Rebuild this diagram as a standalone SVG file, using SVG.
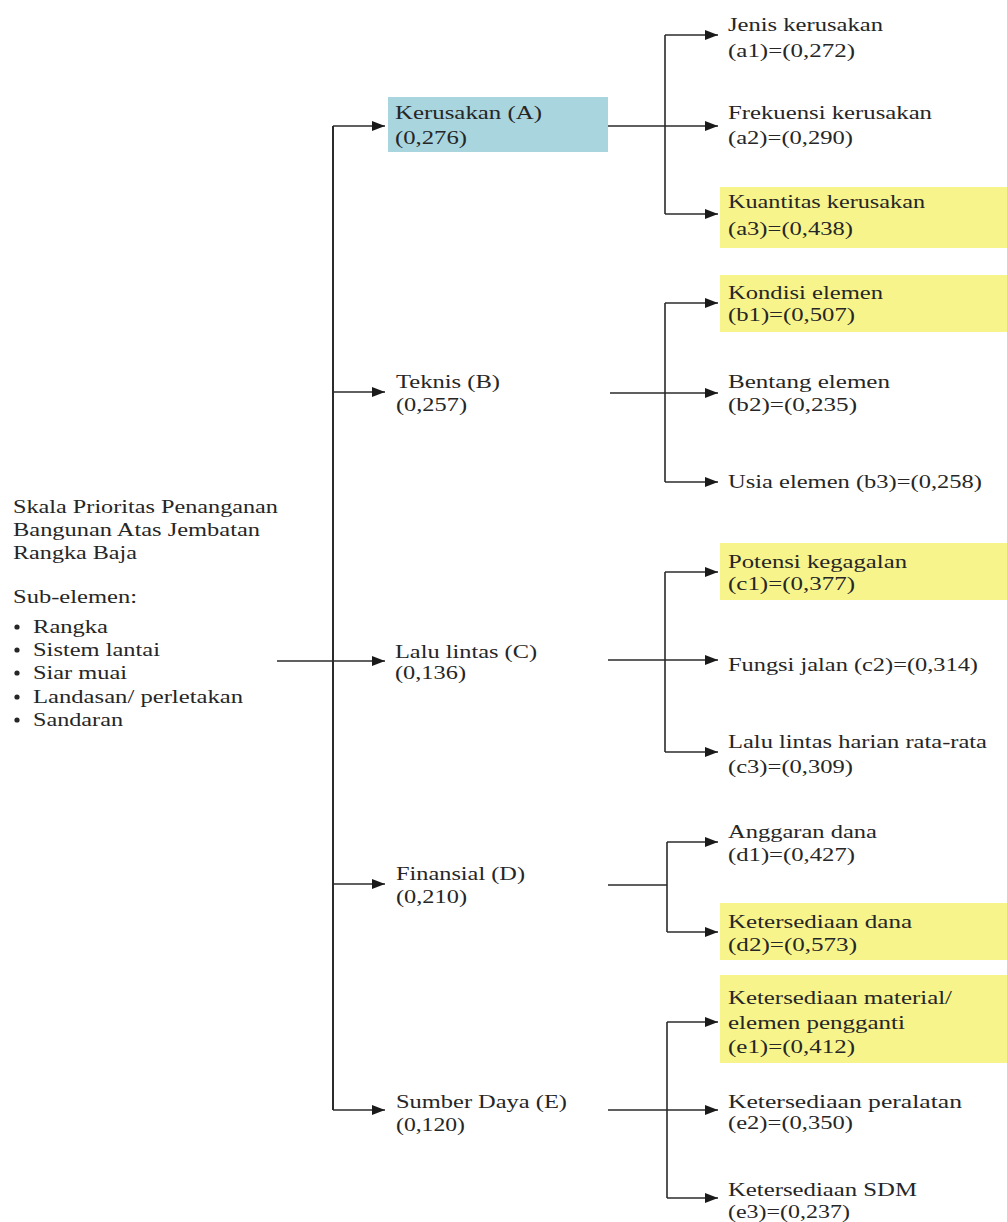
<svg xmlns="http://www.w3.org/2000/svg" width="1007" height="1222" viewBox="0 0 1007 1222">
<style>
text{font-family:"Liberation Serif","Times New Roman",serif;font-size:18px;fill:#262626}
.ln{fill:none;stroke:#2b2b2b;stroke-width:1.6}
.ar{fill:none;stroke:#2b2b2b;stroke-width:1.6;marker-end:url(#ah)}
.yl{fill:#f7f48c}
.bl{fill:#a9d5de}
</style>
<defs>
<marker id="ah" markerWidth="13" markerHeight="10" refX="13" refY="5" orient="auto" markerUnits="userSpaceOnUse">
<path d="M0,0 L13,5 L0,10 Z" fill="#1a1a1a"/>
</marker>
</defs>
<rect width="1007" height="1222" fill="#ffffff"/>

<g id="root">
<text x="13" y="513" textLength="265" lengthAdjust="spacingAndGlyphs">Skala Prioritas Penanganan</text>
<text x="13" y="536" textLength="247" lengthAdjust="spacingAndGlyphs">Bangunan Atas Jembatan</text>
<text x="13" y="559" textLength="124" lengthAdjust="spacingAndGlyphs">Rangka Baja</text>
<text x="13" y="603" textLength="124" lengthAdjust="spacingAndGlyphs">Sub-elemen:</text>
<circle cx="17" cy="627" r="2.6" fill="#262626"/>
<circle cx="17" cy="650" r="2.6" fill="#262626"/>
<circle cx="17" cy="673" r="2.6" fill="#262626"/>
<circle cx="17" cy="697" r="2.6" fill="#262626"/>
<circle cx="17" cy="720" r="2.6" fill="#262626"/>
<text x="33" y="633" textLength="75" lengthAdjust="spacingAndGlyphs">Rangka</text>
<text x="33" y="656" textLength="127" lengthAdjust="spacingAndGlyphs">Sistem lantai</text>
<text x="33" y="679" textLength="94" lengthAdjust="spacingAndGlyphs">Siar muai</text>
<text x="33" y="703" textLength="210" lengthAdjust="spacingAndGlyphs">Landasan/ perletakan</text>
<text x="33" y="726" textLength="90" lengthAdjust="spacingAndGlyphs">Sandaran</text>
</g>

<g id="A">
<rect class="bl" x="388" y="97" width="220" height="55"/>
<text x="395" y="119" textLength="147" lengthAdjust="spacingAndGlyphs">Kerusakan (A)</text>
<text x="395" y="144" textLength="72" lengthAdjust="spacingAndGlyphs">(0,276)</text>
</g>
<g id="B">
<text x="396" y="388" textLength="104" lengthAdjust="spacingAndGlyphs">Teknis (B)</text>
<text x="396" y="411" textLength="71" lengthAdjust="spacingAndGlyphs">(0,257)</text>
</g>
<g id="C">
<text x="395" y="658" textLength="142" lengthAdjust="spacingAndGlyphs">Lalu lintas (C)</text>
<text x="395" y="679" textLength="71" lengthAdjust="spacingAndGlyphs">(0,136)</text>
</g>
<g id="D">
<text x="396" y="880" textLength="129" lengthAdjust="spacingAndGlyphs">Finansial (D)</text>
<text x="396" y="903" textLength="71" lengthAdjust="spacingAndGlyphs">(0,210)</text>
</g>
<g id="E">
<text x="396" y="1108" textLength="171" lengthAdjust="spacingAndGlyphs">Sumber Daya (E)</text>
<text x="396" y="1131" textLength="69" lengthAdjust="spacingAndGlyphs">(0,120)</text>
</g>

<g id="a1">
<text x="728" y="31" textLength="155" lengthAdjust="spacingAndGlyphs">Jenis kerusakan</text>
<text x="728" y="57" textLength="127" lengthAdjust="spacingAndGlyphs">(a1)=(0,272)</text>
</g>
<g id="a2">
<text x="728" y="119" textLength="204" lengthAdjust="spacingAndGlyphs">Frekuensi kerusakan</text>
<text x="728" y="144" textLength="125" lengthAdjust="spacingAndGlyphs">(a2)=(0,290)</text>
</g>
<g id="a3">
<rect class="yl" x="720" y="187" width="287" height="61"/>
<text x="728" y="208" textLength="197" lengthAdjust="spacingAndGlyphs">Kuantitas kerusakan</text>
<text x="728" y="235" textLength="125" lengthAdjust="spacingAndGlyphs">(a3)=(0,438)</text>
</g>
<g id="b1">
<rect class="yl" x="720" y="275" width="287" height="57"/>
<text x="728" y="299" textLength="155" lengthAdjust="spacingAndGlyphs">Kondisi elemen</text>
<text x="728" y="321" textLength="127" lengthAdjust="spacingAndGlyphs">(b1)=(0,507)</text>
</g>
<g id="b2">
<text x="728" y="388" textLength="162" lengthAdjust="spacingAndGlyphs">Bentang elemen</text>
<text x="728" y="411" textLength="129" lengthAdjust="spacingAndGlyphs">(b2)=(0,235)</text>
</g>
<g id="b3">
<text x="728" y="488" textLength="254" lengthAdjust="spacingAndGlyphs">Usia elemen (b3)=(0,258)</text>
</g>
<g id="c1">
<rect class="yl" x="720" y="543" width="287" height="57"/>
<text x="728" y="568" textLength="179" lengthAdjust="spacingAndGlyphs">Potensi kegagalan</text>
<text x="728" y="590" textLength="127" lengthAdjust="spacingAndGlyphs">(c1)=(0,377)</text>
</g>
<g id="c2">
<text x="728" y="671" textLength="250" lengthAdjust="spacingAndGlyphs">Fungsi jalan (c2)=(0,314)</text>
</g>
<g id="c3">
<text x="728" y="748" textLength="259" lengthAdjust="spacingAndGlyphs">Lalu lintas harian rata-rata</text>
<text x="728" y="773" textLength="125" lengthAdjust="spacingAndGlyphs">(c3)=(0,309)</text>
</g>
<g id="d1">
<text x="728" y="838" textLength="149" lengthAdjust="spacingAndGlyphs">Anggaran dana</text>
<text x="728" y="861" textLength="127" lengthAdjust="spacingAndGlyphs">(d1)=(0,427)</text>
</g>
<g id="d2">
<rect class="yl" x="720" y="903" width="287" height="57"/>
<text x="728" y="928" textLength="184" lengthAdjust="spacingAndGlyphs">Ketersediaan dana</text>
<text x="728" y="951" textLength="129" lengthAdjust="spacingAndGlyphs">(d2)=(0,573)</text>
</g>
<g id="e1">
<rect class="yl" x="720" y="975" width="287" height="88"/>
<text x="728" y="1004" textLength="224" lengthAdjust="spacingAndGlyphs">Ketersediaan material/</text>
<text x="728" y="1029" textLength="177" lengthAdjust="spacingAndGlyphs">elemen pengganti</text>
<text x="728" y="1053" textLength="127" lengthAdjust="spacingAndGlyphs">(e1)=(0,412)</text>
</g>
<g id="e2">
<text x="728" y="1108" textLength="234" lengthAdjust="spacingAndGlyphs">Ketersediaan  peralatan</text>
<text x="728" y="1129" textLength="125" lengthAdjust="spacingAndGlyphs">(e2)=(0,350)</text>
</g>
<g id="e3">
<text x="728" y="1196" textLength="189" lengthAdjust="spacingAndGlyphs">Ketersediaan SDM</text>
<text x="728" y="1218" textLength="122" lengthAdjust="spacingAndGlyphs">(e3)=(0,237)</text>
</g>

<g id="connectors">
<path class="ln" d="M277,661 H333"/>
<path class="ln" d="M333,126 V1110" style="stroke-width:2"/>
<path class="ar" d="M333,126 H385"/>
<path class="ar" d="M333,392 H385"/>
<path class="ar" d="M333,661 H385"/>
<path class="ar" d="M333,884 H385"/>
<path class="ar" d="M333,1110 H385"/>

<path class="ln" d="M608,126 H665 M665,35 V214"/>
<path class="ar" d="M665,35 H718"/>
<path class="ar" d="M665,126 H718"/>
<path class="ar" d="M665,214 H718"/>

<path class="ln" d="M610,393 H665 M665,303 V482"/>
<path class="ar" d="M665,303 H718"/>
<path class="ar" d="M665,393 H718"/>
<path class="ar" d="M665,482 H718"/>

<path class="ln" d="M608,660 H665 M665,572 V752"/>
<path class="ar" d="M665,572 H718"/>
<path class="ar" d="M665,660 H718"/>
<path class="ar" d="M665,752 H718"/>

<path class="ln" d="M608,885 H667 M667,842 V932"/>
<path class="ar" d="M667,842 H718"/>
<path class="ar" d="M667,932 H718"/>

<path class="ln" d="M608,1110 H667 M667,1022 V1198"/>
<path class="ar" d="M667,1022 H718"/>
<path class="ar" d="M667,1110 H718"/>
<path class="ar" d="M667,1198 H718"/>
</g>
</svg>
